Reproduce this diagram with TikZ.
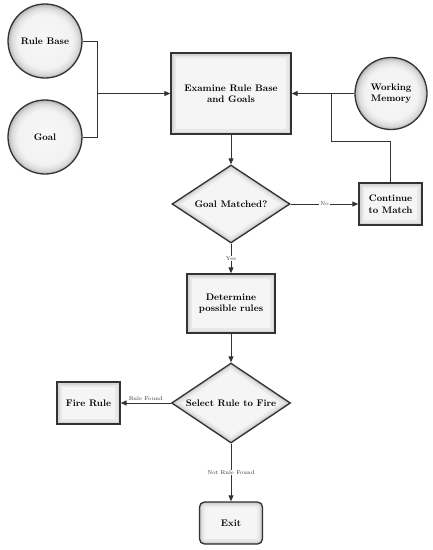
\documentclass[tikz,border=0pt]{standalone}
\usetikzlibrary{shapes.geometric,arrows.meta}
\pgfdeclareradialshading{glow}{\pgfpoint{0bp}{0bp}}{color(0bp)=(gray!6); color(18.5bp)=(gray!10); color(22.5bp)=(gray!28); color(25bp)=(gray!60); color(50bp)=(gray!60)}
\begin{document}
\begin{tikzpicture}[x=1pt,y=-1pt,
  base/.style={draw=black!80, line width=1.3pt, align=center,
    font=\fontsize{9.5}{11.5}\selectfont\bfseries, inner sep=0pt},
  circ/.style={base, circle, shading=glow, minimum size=74pt},
  box/.style={base, rectangle, fill=gray!8,
    path picture={
      \draw[gray!18, line width=10pt] (path picture bounding box.south west) rectangle (path picture bounding box.north east);
      \draw[gray!32, line width=5pt] (path picture bounding box.south west) rectangle (path picture bounding box.north east);
      \draw[gray!55, line width=2pt] (path picture bounding box.south west) rectangle (path picture bounding box.north east);}},
  dia/.style={base, diamond, aspect=1.5, fill=gray!8,
    path picture={
      \draw[gray!18, line width=10pt] (path picture bounding box.north) -- (path picture bounding box.east) -- (path picture bounding box.south) -- (path picture bounding box.west) -- cycle;
      \draw[gray!32, line width=5pt] (path picture bounding box.north) -- (path picture bounding box.east) -- (path picture bounding box.south) -- (path picture bounding box.west) -- cycle;
      \draw[gray!55, line width=2pt] (path picture bounding box.north) -- (path picture bounding box.east) -- (path picture bounding box.south) -- (path picture bounding box.west) -- cycle;}},
  conn/.style={draw=black!80, line width=1pt},
  arr/.style={conn, -{Triangle[length=6pt,width=5pt]}},
  lbl/.style={font=\fontsize{5.5}{6}\selectfont, text=black!80, inner sep=1pt}
]
\useasboundingbox (0,0) rectangle (432,550);
\node[circ] (rb) at (45,41) {Rule Base};
\node[circ] (goal) at (45,137) {Goal};
\node[box, minimum width=120pt, minimum height=81pt] (exam) at (231,93.5) {Examine Rule Base\\and Goals};
\node[circ, minimum size=72pt] (wm) at (391,93.5) {Working\\Memory};
\node[box, minimum width=63pt, minimum height=42pt] (cont) at (390.5,204) {Continue\\to Match};
\node[dia, minimum width=118pt, minimum height=78pt] (gm) at (231,204) {Goal Matched?};
\node[box, minimum width=88pt, minimum height=59pt] (det) at (231,303.5) {Determine\\possible rules};
\node[dia, minimum width=119pt, minimum height=80pt] (sel) at (231,403) {Select Rule to Fire};
\node[box, minimum width=63pt, minimum height=42pt] (fire) at (88.5,403) {Fire Rule};
\node[box, rounded corners=5pt, minimum width=63pt, minimum height=42pt] (exit) at (231,523) {Exit};

\coordinate (j) at (97,93.5);
\draw[conn] (rb.east) -| (j);
\draw[conn] (goal.east) -| (j);
\draw[arr] (j) -- (exam.west);
\draw[arr] (wm.west) -- (exam.east);
\coordinate (k) at (331,93.5);
\coordinate (k2) at (331,141);
\draw[conn] (cont.north) |- (k2) -- (k);
\draw[arr] (exam.south) -- (gm.north);
\draw[arr] (gm.east) -- node[lbl, fill=white] {No} (cont.west);
\draw[arr] (gm.south) -- node[lbl, fill=white, pos=0.5] {Yes} (det.north);
\draw[arr] (det.south) -- (sel.north);
\draw[arr] (sel.west) -- node[lbl, above=1pt] {Rule Found} (fire.east);
\draw[arr] (sel.south) -- node[lbl, fill=white, pos=0.5] {Not Rule Found} (exit.north);
\end{tikzpicture}
\end{document}
